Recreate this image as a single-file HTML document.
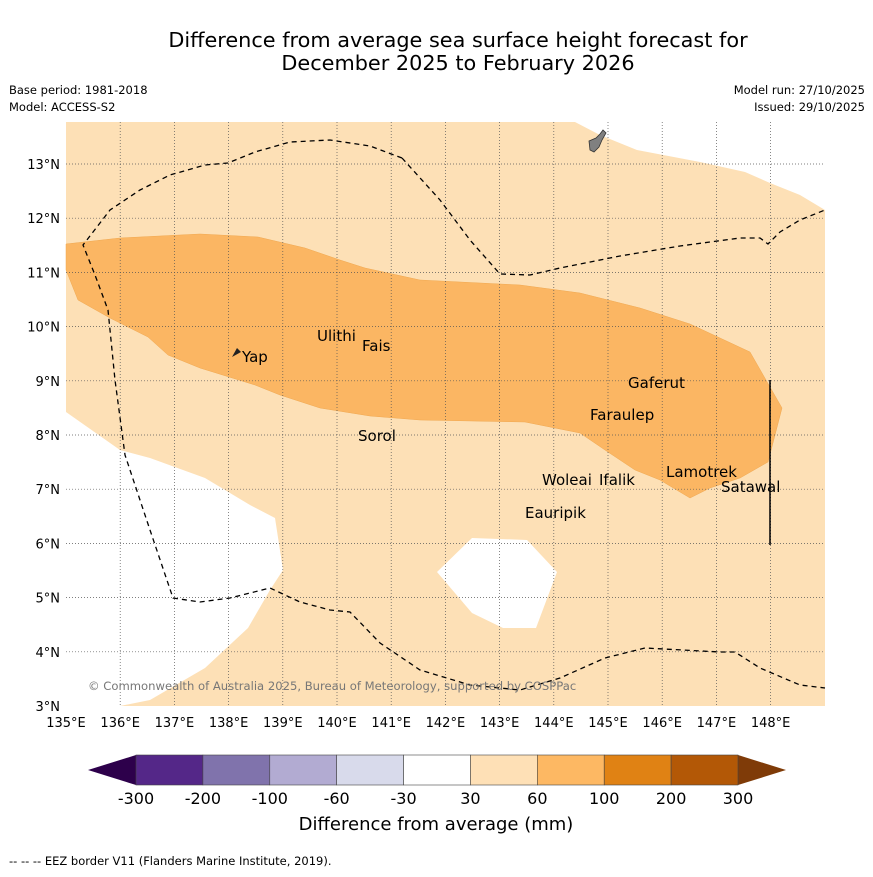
<!DOCTYPE html>
<html><head><meta charset="utf-8"><style>
body{margin:0;background:#fff;font-family:"DejaVu Sans","Liberation Sans",sans-serif}
svg text{font-family:"DejaVu Sans","Liberation Sans",sans-serif}
</style></head><body>
<svg id="s" width="873" height="873" viewBox="0 0 873 873" xmlns="http://www.w3.org/2000/svg">
<rect width="873" height="873" fill="#fff"/>
<text x="458" y="47" text-anchor="middle" font-size="20.8">Difference from average sea surface height forecast for</text>
<text x="458" y="70" text-anchor="middle" font-size="20.8">December 2025 to February 2026</text>
<text x="9" y="94" font-size="11.5">Base period: 1981-2018</text>
<text x="9" y="111" font-size="11.5">Model: ACCESS-S2</text>
<text x="865" y="94" font-size="11.5" text-anchor="end">Model run: 27/10/2025</text>
<text x="865" y="111" font-size="11.5" text-anchor="end">Issued: 29/10/2025</text>
<g>
<rect x="66" y="122" width="759" height="584" fill="#fde0b6"/>
<polygon fill="#fff" points="575,122 600,135 637,150 700,162 745,172 770,183 800,195 825,210 825,122"/>
<polygon fill="#fff" points="66,412 120,450 150,458 205,478 250,505 275,518 283,570 270,590 248,628 205,668 150,700 120,706 66,706"/>
<polygon fill="#fff" points="437,572 472,538 527,540 557,572 536,628 503,628 472,613"/>
<polygon fill="#fbb663" stroke="#f0a850" stroke-width="0.5" points="66,244 120,238 200,234 258,237 305,248 340,260 365,268 420,280 520,285 580,293 640,308 690,324 750,352 782,408 768,462 740,478 710,488 690,498 660,480 635,470 605,450 580,433 525,422 420,420 370,416 320,408 280,395 255,385 200,368 168,355 148,337 110,318 78,300 66,270"/>
<path d="M589,141 L596,138 L600,134 L603,130 L606,133 L602,140 L599,147 L594,152 L590,150 Z" fill="#808080" stroke="#333" stroke-width="0.8"/>
<path d="M232,357 L237,348 L241,352 Z" fill="#222"/>
<g id="grid" stroke="#555" stroke-width="0.7" stroke-dasharray="1,2"></g>
<polyline fill="none" stroke="#000" stroke-width="1.3" stroke-dasharray="5,4" points="402,158 370,146 330,140 290,142 255,152 228,163 205,165 170,175 140,190 110,210 83,245 95,275 108,310 115,380 125,455 150,530 173,598 200,602 230,598 270,588 300,602 330,610 350,612 380,643 420,670 470,685 520,690 560,678 605,658 645,648 720,652 735,652 760,668 800,685 825,688"/>
<polyline fill="none" stroke="#000" stroke-width="1.3" stroke-dasharray="5,4" points="402,158 440,200 470,240 500,274 530,275 560,268 620,256 680,246 740,238 760,238 768,244 780,232 800,220 825,210"/>
<line x1="770" y1="380" x2="770" y2="545" stroke="#000" stroke-width="1.5"/>
<g font-size="15" fill="#000">
<text x="242" y="362">Yap</text>
<text x="317" y="341">Ulithi</text>
<text x="362" y="351">Fais</text>
<text x="628" y="388">Gaferut</text>
<text x="590" y="420">Faraulep</text>
<text x="358" y="441">Sorol</text>
<text x="542" y="485">Woleai</text>
<text x="599" y="485">Ifalik</text>
<text x="666" y="477">Lamotrek</text>
<text x="721" y="492">Satawal</text>
<text x="525" y="518">Eauripik</text>
</g>
<text x="88" y="690" font-size="11.6" fill="#777">© Commonwealth of Australia 2025, Bureau of Meteorology, supported by COSPPac</text>
</g>
<g id="axes" font-size="13"></g>
<g id="cbar"></g>
<text x="436" y="830" text-anchor="middle" font-size="18">Difference from average (mm)</text>
<text x="9" y="865" font-size="11.5">--  --  -- EEZ border V11 (Flanders Marine Institute, 2019).</text>
</svg>
<script>
const lonTicks=[135,136,137,138,139,140,141,142,143,144,145,146,147,148];
const latTicks=[3,4,5,6,7,8,9,10,11,12,13];
const cbLabels=["-300","-200","-100","-60","-30","30","60","100","200","300"];
const cbColors=["#542788","#8073ac","#b2abd2","#d8daeb","#ffffff","#fee0b6","#fdb863","#e08214","#b35806"];
const NS="http://www.w3.org/2000/svg";
const x=l=>66+(l-135)*54.2, y=l=>706-(l-3)*54.2;
function mk(t,a,p){const e=document.createElementNS(NS,t);for(const k in a)e.setAttribute(k,a[k]);p.appendChild(e);return e;}
const g=document.getElementById('grid'),ax=document.getElementById('axes'),cb=document.getElementById('cbar');
lonTicks.forEach(l=>{if(l>135){const e=mk('line',{x1:x(l),x2:x(l),y1:122,y2:706},g);

}
const t=mk('text',{x:x(l),y:727,'text-anchor':'middle'},ax);t.textContent=l+'°E';

});
latTicks.forEach(l=>{if(l>3){const e=mk('line',{x1:66,x2:825,y1:y(l),y2:y(l)},g);

}
const t=mk('text',{x:60,y:y(l)+5,'text-anchor':'end'},ax);t.textContent=l+'°N';

});
const x0=136,x1=738,w=(x1-x0)/cbColors.length,yt=755,h=30;
const lt=mk('polygon',{points:`${x0},${yt} ${x0},${yt+h} 88,${yt+h/2}`,fill:'#2d004b'},cb);


const rt=mk('polygon',{points:`${x1},${yt} ${x1},${yt+h} 786,${yt+h/2}`,fill:'#7f3b08'},cb);


cbColors.forEach((c,i)=>{const r=mk('rect',{x:x0+i*w,y:yt,width:w,height:h,fill:c,stroke:'#444','stroke-width':0.6},cb);

});
cbLabels.forEach((s,i)=>{const t=mk('text',{x:x0+i*w,y:804,'text-anchor':'middle','font-size':16},cb);t.textContent=s;

});
</script>
</body></html>
